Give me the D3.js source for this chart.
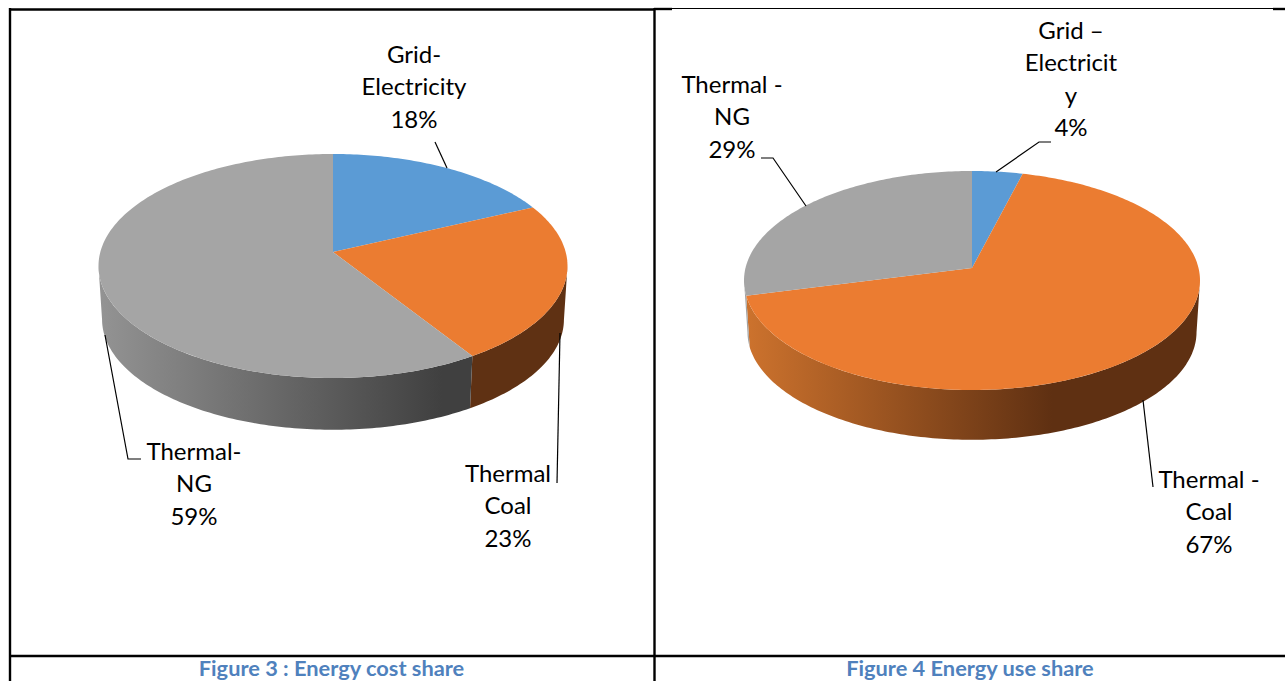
<!DOCTYPE html>
<html>
<head>
<meta charset="utf-8">
<script src="https://cdn.jsdelivr.net/npm/d3@7"></script>
<style>
  html, body { margin: 0; padding: 0; background: #fff; overflow: hidden; }
  svg { display: block; }
  text { font-family: Lato, "Noto Sans", sans-serif; }
</style>
</head>
<body>
<svg id="chart" width="1285" height="681"></svg>
<script>
// Energy shares, in percent
const sources = ["Grid", "Coal", "NG"];
const costShare = [18, 23, 59];
const useShare = [4, 67, 29];
const captions = ["Figure 3 : Energy cost share", "Figure 4 Energy use share"];
const costLabels = [["Grid-", "Electricity"], ["Thermal", "Coal"], ["Thermal-", "NG"]];
const useLabels = [["Grid –", "Electricit", "y"], ["Thermal -", "Coal"], ["Thermal -", "NG"]];

const topColors = { Grid: "#5b9bd5", Coal: "#eb7c31", NG: "#a5a5a5" };

const svg = d3.select("#chart");
const defs = svg.append("defs");

function addGradient(id, x1, x2, stops) {
  const g = defs.append("linearGradient")
    .attr("id", id).attr("gradientUnits", "userSpaceOnUse")
    .attr("x1", x1).attr("x2", x2).attr("y1", 0).attr("y2", 0);
  stops.forEach(([o, c]) => g.append("stop").attr("offset", o).attr("stop-color", c));
}
addGradient("costNG", 100, 442, [[0, "#939393"], [1, "#404040"]]);
addGradient("useCoal", 748, 1052, [[0, "#cc722d"], [1, "#5f3012"]]);

const panels = [
  {
    values: costShare, labels: costLabels,
    cx: 333, cy: 252, farReach: 98, nearReach: 126, halfWidth: 234.5, rimBottom: 430,
    side: { Grid: "#3a6690", Coal: "#5f3113", NG: "url(#costNG)" },
    labelPos: [[414, 55], [508, 474], [194, 452]],
    leaders: [
      [[435, 142], [447, 168]],
      [[560, 333], [557, 483]],
      [[105, 335], [128, 459], [141, 459]]
    ]
  },
  {
    values: useShare, labels: useLabels,
    cx: 972, cy: 268, farReach: 97, nearReach: 122, halfWidth: 228, rimBottom: 440,
    side: { Grid: "#3a6690", Coal: "url(#useCoal)", NG: "#a2a2a2" },
    labelPos: [[1071, 31], [1209, 480], [732, 85]],
    leaders: [
      [[996, 172], [1039, 142], [1051, 142]],
      [[1143, 400], [1153, 487]],
      [[761, 158], [773, 158], [806, 206]]
    ]
  }
];

const pieLayout = d3.pie().sort(null).value(d => d);
const outline = d3.line();

function sweep(start, end) {
  const n = Math.max(8, Math.ceil((end - start) * 60));
  return d3.range(n + 1).map(i => start + (end - start) * i / n);
}

function drawPie(p) {
  // Tilted disc: a circle seen in perspective, so the hub sits above the ellipse centre
  const k = (p.nearReach - p.farReach) / (p.nearReach + p.farReach);
  const b = p.farReach * (1 + k);
  const a = p.halfWidth * Math.sqrt(1 - k * k);
  const project = (theta, r = 1, dy = 0) => {
    const u = r * Math.sin(theta), v = r * Math.cos(theta), w = 1 + k * v;
    return [p.cx + a * u / w, p.cy + dy - b * v / w];
  };
  const rimScale = 0.985;
  const rimDrop = p.rimBottom - p.cy - p.nearReach * rimScale;

  // The wall is only visible between the disc's left and right extremes
  const frontStart = Math.acos(-k);
  const frontEnd = 2 * Math.PI - frontStart;

  const arcs = pieLayout(p.values);
  const g = svg.append("g");

  arcs.forEach((d, i) => {
    const from = Math.max(d.startAngle, frontStart);
    const to = Math.min(d.endAngle, frontEnd);
    if (to <= from) return;
    const angles = sweep(from, to);
    const upper = angles.map(t => project(t));
    const lower = angles.slice().reverse().map(t => project(t, rimScale, rimDrop));
    g.append("path")
      .attr("d", outline(upper.concat(lower)) + "Z")
      .attr("fill", p.side[sources[i]]);
  });

  // Top face
  arcs.forEach((d, i) => {
    const pts = [[p.cx, p.cy]].concat(sweep(d.startAngle, d.endAngle).map(t => project(t)));
    g.append("path")
      .attr("d", outline(pts) + "Z")
      .attr("fill", topColors[sources[i]]);
  });

  // Leader lines
  p.leaders.forEach(l => {
    g.append("path").attr("d", outline(l))
      .attr("fill", "none").attr("stroke", "#000").attr("stroke-width", 1.2);
  });

  // Labels: name lines, then the percentage
  p.values.forEach((v, i) => {
    const lines = p.labels[i].concat(v + "%");
    const [lx, ly] = p.labelPos[i];
    const t = g.append("text").attr("text-anchor", "middle")
      .attr("font-size", 24).attr("fill", "#000");
    lines.forEach((s, j) => {
      t.append("tspan").attr("x", lx).attr("y", ly + 8 + j * 32.4).text(s);
    });
  });
}
panels.forEach(drawPie);

// Table rules around the two figures
const rules = [
  [[10, 9.5], [654, 9.5], 2.4],
  [[654, 9], [672, 9], 2.4],
  [[672, 8.5], [1273, 8.5], 1.2],
  [[1273, 9], [1285, 9], 2.4],
  [[10, 8], [10, 681], 2.4],
  [[654.5, 8], [654.5, 681], 2.4],
  [[10, 656], [1285, 656], 2.4]
];
rules.forEach(([s, e, w]) => {
  svg.append("line")
    .attr("x1", s[0]).attr("y1", s[1]).attr("x2", e[0]).attr("y2", e[1])
    .attr("stroke", "#000").attr("stroke-width", w);
});

// Captions beneath each figure
[331.5, 970].forEach((x, i) => {
  svg.append("text").attr("x", x).attr("y", 676)
    .attr("text-anchor", "middle").attr("font-size", 21.8).attr("font-weight", 700)
    .attr("fill", "#4f81bd").text(captions[i]);
});
</script>
</body>
</html>
